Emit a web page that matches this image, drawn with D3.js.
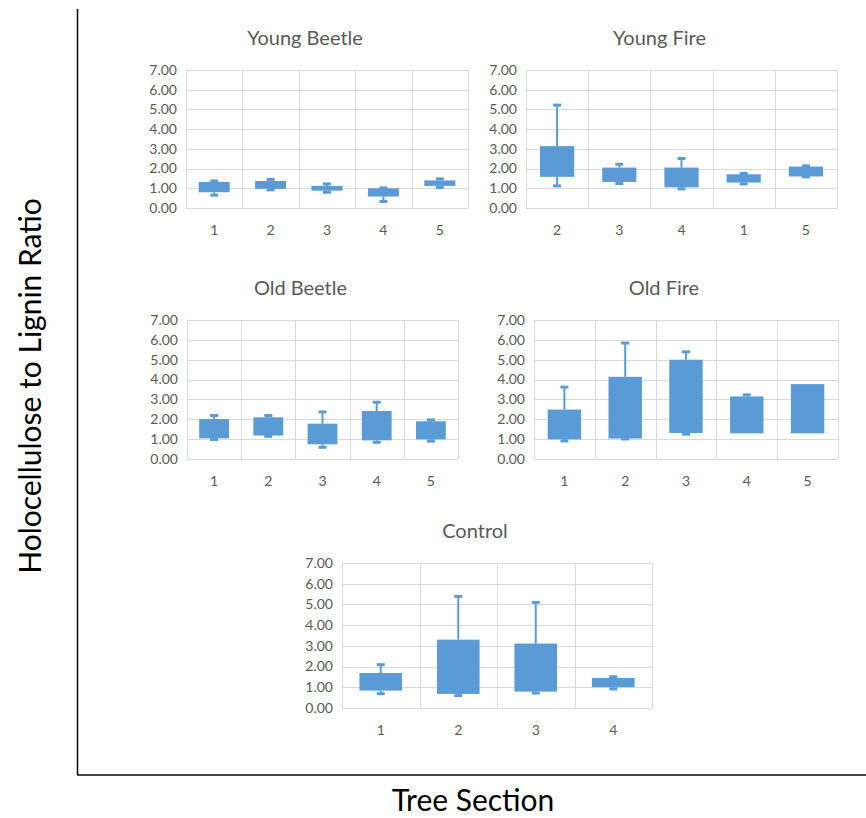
<!DOCTYPE html>
<html>
<head>
<meta charset="utf-8">
<script src="https://cdn.jsdelivr.net/npm/d3@7"></script>
<style>
  body { margin: 0; background: #fff; }
  svg { display: block; font-family: Lato, "Noto Sans", sans-serif; }
</style>
</head>
<body>
<svg id="chart"></svg>
<script>
// y ticks shared by all panels
const yTicks = [0, 1, 2, 3, 4, 5, 6, 7];

// Young Beetle
const youngBeetleCats = ["1", "2", "3", "4", "5"];
const youngBeetleMin = [0.65, 0.92, 0.80, 0.33, 1.04];
const youngBeetleQ1  = [0.80, 0.97, 0.88, 0.58, 1.12];
const youngBeetleQ3  = [1.32, 1.37, 1.12, 1.00, 1.40];
const youngBeetleMax = [1.37, 1.45, 1.22, 1.02, 1.48];

// Young Fire
const youngFireCats = ["2", "3", "4", "1", "5"];
const youngFireMin = [1.12, 1.24, 0.97, 1.22, 1.58];
const youngFireQ1  = [1.58, 1.32, 1.05, 1.29, 1.60];
const youngFireQ3  = [3.14, 2.05, 2.05, 1.71, 2.10];
const youngFireMax = [5.22, 2.22, 2.51, 1.75, 2.14];

// Old Beetle
const oldBeetleCats = ["1", "2", "3", "4", "5"];
const oldBeetleMin = [0.98, 1.14, 0.59, 0.84, 0.90];
const oldBeetleQ1  = [1.04, 1.18, 0.74, 0.94, 0.99];
const oldBeetleQ3  = [2.01, 2.10, 1.78, 2.42, 1.90];
const oldBeetleMax = [2.19, 2.19, 2.37, 2.86, 1.97];

// Old Fire
const oldFireCats = ["1", "2", "3", "4", "5"];
const oldFireMin = [0.91, 1.01, 1.25, 1.29, 1.29];
const oldFireQ1  = [0.99, 1.03, 1.31, 1.29, 1.29];
const oldFireQ3  = [2.49, 4.14, 5.00, 3.15, 3.77];
const oldFireMax = [3.62, 5.84, 5.40, 3.23, 3.77];

// Control
const controlCats = ["1", "2", "3", "4"];
const controlMin = [0.69, 0.60, 0.72, 0.92];
const controlQ1  = [0.84, 0.68, 0.79, 1.01];
const controlQ3  = [1.69, 3.30, 3.11, 1.45];
const controlMax = [2.09, 5.39, 5.10, 1.51];

const width = 866;
const height = 818;
const boxColor = "#5b9bd5";
const gridColor = "#d9d9d9";
const labelColor = "#595959";

const svg = d3.select("#chart")
    .attr("width", width)
    .attr("height", height);

// panel placement (plot area of each small chart)
const panels = [
    { title: "Young Beetle", cats: youngBeetleCats, min: youngBeetleMin, q1: youngBeetleQ1, q3: youngBeetleQ3, max: youngBeetleMax, left: 186, right: 468, top: 70, bottom: 208 },
    { title: "Young Fire", cats: youngFireCats, min: youngFireMin, q1: youngFireQ1, q3: youngFireQ3, max: youngFireMax, left: 526, right: 837, top: 70, bottom: 208 },
    { title: "Old Beetle", cats: oldBeetleCats, min: oldBeetleMin, q1: oldBeetleQ1, q3: oldBeetleQ3, max: oldBeetleMax, left: 187, right: 458, top: 320, bottom: 459 },
    { title: "Old Fire", cats: oldFireCats, min: oldFireMin, q1: oldFireQ1, q3: oldFireQ3, max: oldFireMax, left: 534, right: 838, top: 320, bottom: 459 },
    { title: "Control", cats: controlCats, min: controlMin, q1: controlQ1, q3: controlQ3, max: controlMax, left: 342, right: 652, top: 563, bottom: 708 }
];

panels.forEach(p => {
    const g = svg.append("g");

    const x = d3.scaleBand()
        .domain(p.cats.map((c, i) => i))
        .range([p.left, p.right])
        .paddingInner(0)
        .paddingOuter(0);

    const y = d3.scaleLinear()
        .domain([0, 7])
        .range([p.bottom, p.top]);

    // horizontal gridlines
    g.append("g")
        .selectAll("line")
        .data(yTicks)
        .join("line")
        .attr("x1", p.left)
        .attr("x2", p.right)
        .attr("y1", d => Math.round(y(d)) + 0.5)
        .attr("y2", d => Math.round(y(d)) + 0.5)
        .attr("stroke", gridColor)
        .attr("stroke-width", 1);

    // vertical gridlines at category boundaries
    const bounds = p.cats.map((c, i) => x(i)).concat([p.right]);
    g.append("g")
        .selectAll("line")
        .data(bounds)
        .join("line")
        .attr("x1", d => Math.round(d) + 0.5)
        .attr("x2", d => Math.round(d) + 0.5)
        .attr("y1", p.top)
        .attr("y2", p.bottom)
        .attr("stroke", gridColor)
        .attr("stroke-width", 1);

    // y tick labels
    g.append("g")
        .selectAll("text")
        .data(yTicks)
        .join("text")
        .attr("x", p.left - 9)
        .attr("y", d => y(d))
        .attr("dy", "0.35em")
        .attr("text-anchor", "end")
        .attr("font-size", 14)
        .attr("fill", labelColor)
        .text(d => d3.format(".2f")(d));

    // x labels
    g.append("g")
        .selectAll("text")
        .data(p.cats)
        .join("text")
        .attr("x", (d, i) => x(i) + x.bandwidth() / 2)
        .attr("y", p.bottom + 22)
        .attr("dy", "0.35em")
        .attr("text-anchor", "middle")
        .attr("font-size", 14)
        .attr("fill", labelColor)
        .text(d => d);

    // title
    g.append("text")
        .attr("x", (p.left - 44 + p.right) / 2)
        .attr("y", p.top - 32)
        .attr("dy", "0.35em")
        .attr("text-anchor", "middle")
        .attr("font-size", 20)
        .attr("fill", labelColor)
        .text(p.title);

    const boxW = x.bandwidth() * 0.55;
    const capW = 8;
    const idx = p.cats.map((c, i) => i);

    // whiskers
    const wh = g.append("g").attr("stroke", boxColor).attr("stroke-width", 2);
    idx.forEach(i => {
        const cx = x(i) + x.bandwidth() / 2;
        [[p.q3[i], p.max[i]], [p.q1[i], p.min[i]]].forEach(([a, b]) => {
            if (Math.abs(a - b) < 0.001) return;
            wh.append("line")
                .attr("x1", cx).attr("x2", cx)
                .attr("y1", y(a)).attr("y2", y(b));
            wh.append("line")
                .attr("x1", cx - capW / 2).attr("x2", cx + capW / 2)
                .attr("y1", y(b)).attr("y2", y(b))
                .attr("stroke-width", 3);
        });
    });

    // boxes
    g.append("g")
        .selectAll("rect")
        .data(idx)
        .join("rect")
        .attr("x", i => x(i) + (x.bandwidth() - boxW) / 2)
        .attr("width", boxW)
        .attr("y", i => y(p.q3[i]))
        .attr("height", i => y(p.q1[i]) - y(p.q3[i]))
        .attr("fill", boxColor);
});

// outer axes
svg.append("line")
    .attr("x1", 77.5).attr("x2", 77.5)
    .attr("y1", 9).attr("y2", 775)
    .attr("stroke", "#000").attr("stroke-width", 1.5);
svg.append("line")
    .attr("x1", 77).attr("x2", 866)
    .attr("y1", 775).attr("y2", 775)
    .attr("stroke", "#000").attr("stroke-width", 1.5);

svg.append("text")
    .attr("x", 473)
    .attr("y", 811)
    .attr("text-anchor", "middle")
    .attr("font-size", 30)
    .attr("fill", "#000")
    .text("Tree Section");

svg.append("text")
    .attr("transform", "translate(30,386) rotate(-90)")
    .attr("dy", "0.35em")
    .attr("text-anchor", "middle")
    .attr("font-size", 30)
    .attr("fill", "#000")
    .text("Holocellulose to Lignin Ratio");
</script>
</body>
</html>
